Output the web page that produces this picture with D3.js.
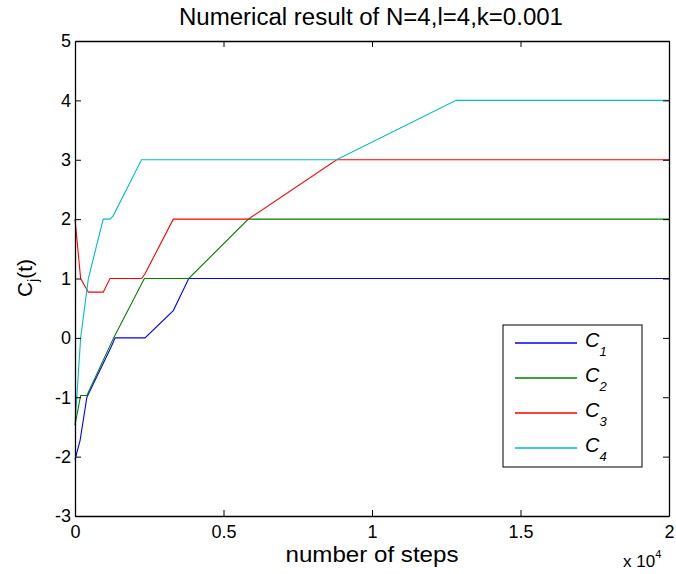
<!DOCTYPE html>
<html>
<head>
<meta charset="utf-8">
<script src="https://cdn.jsdelivr.net/npm/d3@7"></script>
<style>
  body { margin: 0; background: #fff; }
  svg { display: block; font-family: "Liberation Sans", Arial, sans-serif; }
</style>
</head>
<body>
<div id="chart"></div>
<script>
// Values (x in steps, y = C_j(t))
const c1Steps = [0, 170, 400, 1220, 1350, 2357, 3310, 3830, 20000];
const c1Values = [-2.05, -1.73, -1.0, -0.15, 0, 0, 0.46, 1.0, 1.0];

const c2Steps = [0, 190, 400, 1300, 2335, 3830, 5835, 20000];
const c2Values = [-1.47, -0.97, -0.97, 0, 1.0, 1.0, 2.0, 2.0];

const c3Steps = [0, 190, 450, 950, 1180, 2245, 2357, 3310, 5835, 8810, 20000];
const c3Values = [2.0, 1.0, 0.77, 0.77, 1.0, 1.0, 1.08, 2.0, 2.0, 3.0, 3.0];

const c4Steps = [0, 190, 450, 950, 1180, 1290, 2240, 8810, 12830, 20000];
const c4Values = [-1.47, 0, 1.0, 2.0, 2.0, 2.06, 3.0, 3.0, 4.0, 4.0];

const seriesNames = ['1', '2', '3', '4'];
const seriesColors = ['#0000ff', '#008000', '#ff0000', '#00bfbf'];
const xTicks = [0, 5000, 10000, 15000, 20000];
const xTickLabels = ['0', '0.5', '1', '1.5', '2'];
const yTicks = [-3, -2, -1, 0, 1, 2, 3, 4, 5];

const width = 676, height = 574;
const margin = {top: 41, right: 7, bottom: 58, left: 75};
const innerW = width - margin.left - margin.right,
      innerH = height - margin.top - margin.bottom;

const series = [
  [c1Steps, c1Values], [c2Steps, c2Values],
  [c3Steps, c3Values], [c4Steps, c4Values]
].map(([s, v], i) => ({
  name: seriesNames[i],
  color: seriesColors[i],
  points: s.map((d, j) => [d, v[j]])
}));

const svg = d3.select('#chart').append('svg')
  .attr('width', width)
  .attr('height', height);

const x = d3.scaleLinear().domain([0, 20000]).range([0, innerW]);
const y = d3.scaleLinear().domain([-3, 5]).range([innerH, 0]);

const g = svg.append('g')
  .attr('transform', `translate(${margin.left},${margin.top})`);

// lines first, axes box on top
const line = d3.line().x(d => x(d[0])).y(d => y(d[1]));
g.selectAll('path.series')
  .data(series)
  .join('path')
  .classed('series', true)
  .attr('fill', 'none')
  .attr('stroke', d => d.color)
  .attr('stroke-width', 1.1)
  .attr('d', d => line(d.points));

// axes, MATLAB style: ticks inward on all four sides
const fmtX = (d, i) => xTickLabels[i];
const axBottom = g.append('g')
  .attr('transform', `translate(0,${innerH})`)
  .call(d3.axisBottom(x).tickValues(xTicks).tickFormat(fmtX)
    .tickSizeInner(-6).tickSizeOuter(0).tickPadding(9));
const axTop = g.append('g')
  .call(d3.axisTop(x).tickValues(xTicks).tickFormat('')
    .tickSizeInner(-6).tickSizeOuter(0));
const axLeft = g.append('g')
  .call(d3.axisLeft(y).tickValues(yTicks).tickFormat(d3.format('d'))
    .tickSizeInner(-6).tickSizeOuter(0).tickPadding(4));
const axRight = g.append('g')
  .attr('transform', `translate(${innerW},0)`)
  .call(d3.axisRight(y).tickValues(yTicks).tickFormat('')
    .tickSizeInner(-6).tickSizeOuter(0));

[axBottom, axTop, axLeft, axRight].forEach(a => {
  a.select('.domain').attr('stroke', '#000').attr('stroke-width', 1.3);
  a.selectAll('.tick line').attr('stroke', '#000');
  a.selectAll('.tick text')
    .attr('font-size', 18)
    .attr('font-family', '"Liberation Sans", Arial, sans-serif')
    .attr('fill', '#000');
});
axLeft.selectAll('.tick text').text(d => d < 0 ? '-' + Math.abs(d) : d);

// title
svg.append('text')
  .attr('x', margin.left + innerW / 2 - 1)
  .attr('y', 25)
  .attr('text-anchor', 'middle')
  .attr('font-size', 23)
  .attr('textLength', 384)
  .attr('lengthAdjust', 'spacingAndGlyphs')
  .text('Numerical result of N=4,l=4,k=0.001');

// x label
svg.append('text')
  .attr('x', margin.left + innerW / 2)
  .attr('y', 562)
  .attr('text-anchor', 'middle')
  .attr('font-size', 22)
  .attr('textLength', 173)
  .attr('lengthAdjust', 'spacingAndGlyphs')
  .text('number of steps');

// exponent label
const expo = svg.append('text')
  .attr('x', 623)
  .attr('y', 567)
  .attr('font-size', 17);
expo.append('tspan').text('x 10');
expo.append('tspan').attr('font-size', 11).attr('dy', -9).text('4');

// y label
const yl = svg.append('text')
  .attr('transform', 'translate(32,278) rotate(-90)')
  .attr('text-anchor', 'middle')
  .attr('font-size', 21);
yl.append('tspan').text('C');
yl.append('tspan').attr('font-size', 14).attr('dy', 6).text('j');
yl.append('tspan').attr('dy', -6).text('(t)');

// legend
const legend = svg.append('g').attr('transform', 'translate(503,325)');
legend.append('rect')
  .attr('width', 139).attr('height', 142)
  .attr('fill', '#fff').attr('stroke', '#000').attr('stroke-width', 1);
const item = legend.selectAll('g.item')
  .data(series)
  .join('g')
  .classed('item', true)
  .attr('transform', (d, i) => `translate(0,${18 + i * 35})`);
item.append('line')
  .attr('x1', 12).attr('x2', 74)
  .attr('stroke', d => d.color).attr('stroke-width', 1.3);
const lt = item.append('text')
  .attr('x', 82).attr('y', 4)
  .attr('font-size', 20)
  .attr('font-style', 'italic');
lt.append('tspan').text('C');
lt.append('tspan').attr('font-size', 13).attr('dy', 9).text(d => d.name);
</script>
</body>
</html>
